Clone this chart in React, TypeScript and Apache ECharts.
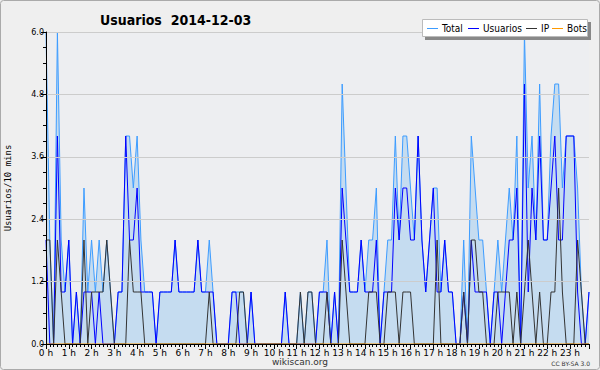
import React, { useEffect, useRef } from "react";
import * as echarts from "echarts";

// 144 ten-minute slots, 0 h .. 23 h 50 (one row = two hours)
const usuarios = [
  2, 0, 0, 4, 1, 1, 2, 0, 1, 0, 1, 1,
  1, 0, 1, 0, 0, 0, 0, 1, 1, 4, 2, 2,
  3, 1, 1, 1, 1, 0, 1, 1, 1, 1, 2, 1,
  1, 1, 1, 1, 2, 1, 1, 1, 1, 0, 0, 0,
  0, 1, 1, 0, 0, 0, 1, 0, 0, 0, 0, 0,
  0, 0, 0, 1, 0, 0, 0, 0, 0, 0, 0, 0,
  1, 1, 1, 0, 1, 0, 3, 2, 1, 1, 1, 2,
  1, 1, 1, 2, 0, 1, 1, 1, 3, 2, 3, 3,
  2, 2, 4, 2, 1, 2, 3, 1, 1, 2, 1, 1,
  0, 0, 1, 0, 2, 1, 1, 1, 1, 0, 1, 1,
  0, 1, 2, 2, 3, 0, 5, 1, 3, 2, 4, 2,
  2, 3, 4, 2, 2, 4, 4, 4, 1, 0, 0, 1,
];
const ip = [
  2, 2, 0, 2, 1, 0, 0, 0, 0, 0, 2, 0,
  1, 1, 1, 1, 2, 1, 0, 0, 0, 0, 2, 1,
  1, 1, 0, 0, 0, 0, 0, 0, 0, 0, 0, 0,
  0, 0, 0, 0, 0, 0, 0, 1, 0, 0, 0, 0,
  0, 0, 0, 1, 1, 0, 0, 0, 0, 0, 0, 0,
  0, 0, 0, 0, 0, 0, 0, 1, 0, 1, 1, 0,
  0, 0, 1, 0, 0, 0, 2, 1, 0, 0, 0, 0,
  0, 1, 1, 1, 0, 0, 1, 1, 1, 0, 1, 1,
  1, 0, 0, 0, 0, 0, 0, 2, 0, 0, 0, 0,
  0, 0, 1, 0, 2, 2, 1, 1, 0, 0, 0, 1,
  1, 1, 1, 0, 1, 0, 1, 2, 1, 0, 1, 0,
  0, 1, 1, 3, 1, 0, 0, 0, 2, 1, 0, 0,
];
const total = [
  6, 2, 0, 6, 2, 1, 2, 0, 1, 0, 3, 1,
  2, 1, 2, 1, 2, 1, 0, 1, 1, 4, 4, 3,
  4, 2, 1, 1, 1, 0, 1, 1, 1, 1, 2, 1,
  1, 1, 1, 1, 2, 1, 1, 2, 1, 0, 0, 0,
  0, 1, 1, 1, 1, 0, 1, 0, 0, 0, 0, 0,
  0, 0, 0, 1, 0, 0, 0, 1, 0, 1, 1, 0,
  1, 1, 2, 0, 1, 0, 5, 3, 1, 1, 1, 2,
  1, 2, 2, 3, 0, 1, 2, 2, 4, 2, 4, 4,
  3, 2, 4, 2, 1, 2, 3, 3, 1, 2, 1, 1,
  0, 0, 2, 0, 4, 3, 2, 2, 1, 0, 1, 2,
  1, 2, 3, 2, 4, 0, 6, 3, 4, 2, 5, 2,
  2, 4, 5, 5, 3, 4, 4, 4, 3, 1, 0, 1,
];
const bots: number[] = new Array(144).fill(0);

const yTicks = [0, 1.2, 2.4, 3.6, 4.8, 6.0];
const hourLabels = Array.from({ length: 24 }, (_, h) => `${h} h`);

const seriesNames = ["Total", "Usuarios", "IP", "Bots"];
const seriesColors = ["#3d9cff", "#0000ff", "#333333", "#ff9900"];

export default function App() {
  const ref = useRef<HTMLDivElement>(null);
  useEffect(() => {
    if (!ref.current) return;
    const chart = echarts.init(ref.current, undefined, { renderer: "svg" });
    const toPairs = (arr: number[]) => arr.map((v, i) => [i, v]);
    const datas = [total, usuarios, ip, bots];
    const font = "DejaVu Sans";
    const legendFont = "DejaVu Sans Condensed";

    // custom legend box (top right)
    const legendIconX = [427, 468, 526, 552];
    const legendTextX = [442, 483, 541, 567];
    const legendY = 28;
    const legendGraphics: any[] = [
      {
        type: "rect",
        shape: { x: 425, y: 22, width: 166, height: 18 },
        style: { fill: "#888888" },
        silent: true,
        z: 100,
      },
      {
        type: "rect",
        shape: { x: 422.5, y: 19.5, width: 165, height: 17 },
        style: { fill: "#ffffff", stroke: "#bbbbbb", lineWidth: 1 },
        silent: true,
        z: 101,
      },
    ];
    seriesNames.forEach((n, k) => {
      legendGraphics.push({
        type: "line",
        shape: { x1: legendIconX[k], y1: legendY + 0.5, x2: legendIconX[k] + 11, y2: legendY + 0.5 },
        style: { stroke: seriesColors[k], lineWidth: 1 },
        silent: true,
        z: 102,
      });
      legendGraphics.push({
        type: "text",
        x: legendTextX[k],
        y: legendY,
        style: {
          text: n,
          fontFamily: legendFont,
          fontSize: 10,
          fill: "#000",
          verticalAlign: "middle",
        },
        silent: true,
        z: 102,
      });
    });

    chart.setOption({
      animation: false,
      backgroundColor: "#efefef",
      title: {
        text: "Usuarios  2014-12-03",
        left: 95,
        top: 8,
        textStyle: { fontFamily: legendFont, fontWeight: "bold", fontSize: 14, color: "#000" },
      },
      grid: {
        left: 46,
        right: 11,
        top: 32,
        bottom: 26,
        show: true,
        backgroundColor: "#edeef1",
        borderWidth: 0,
        containLabel: false,
        outerBoundsMode: "none",
      },
      xAxis: {
        type: "value",
        min: 0,
        max: 143,
        interval: 6,
        z: 10,
        axisLine: { lineStyle: { color: "#000", width: 1 } },
        axisTick: { length: 5, lineStyle: { color: "#000" } },
        minorTick: { show: true, splitNumber: 6, length: 3, lineStyle: { color: "#000" } },
        splitLine: { show: false },
        axisLabel: {
          formatter: (v: number) => hourLabels[v / 6] ?? "",
          fontFamily: font,
          fontSize: 9,
          color: "#000",
          margin: 4,
        },
      },
      yAxis: {
        type: "value",
        min: 0,
        max: 6,
        interval: 1.2,
        z: 10,
        axisLine: { show: true, lineStyle: { color: "#000", width: 1 } },
        axisTick: { show: true, length: 5, lineStyle: { color: "#000" } },
        minorTick: { show: true, splitNumber: 4, length: 3, lineStyle: { color: "#000" } },
        splitLine: { show: true, lineStyle: { color: "#cccccc", width: 1 } },
        axisLabel: {
          formatter: (v: number) => (yTicks.some((t) => Math.abs(t - v) < 1e-6) ? v.toFixed(1) : ""),
          fontFamily: font,
          fontSize: 8,
          color: "#000",
          margin: 2,
        },
        name: "Usuarios/10 mins",
        nameLocation: "middle",
        nameRotate: 90,
        nameGap: 34,
        nameTextStyle: { fontFamily: "DejaVu Sans Mono", fontSize: 9, color: "#000" },
      },
      graphic: [
        {
          type: "rect",
          shape: { x: 0.5, y: 0.5, width: 599, height: 369, r: 3 },
          style: { fill: "none", stroke: "#aaaaaa", lineWidth: 1 },
          silent: true,
        },
        {
          type: "text",
          x: 300,
          y: 362,
          style: {
            text: "wikiscan.org",
            fontFamily: font,
            fontSize: 9,
            fill: "#333",
            align: "center",
            verticalAlign: "middle",
          },
        },
        {
          type: "text",
          x: 590,
          y: 363,
          style: {
            text: "CC BY-SA 3.0",
            fontFamily: font,
            fontSize: 6,
            fill: "#333",
            align: "right",
            verticalAlign: "middle",
          },
        },
        ...legendGraphics,
      ],
      series: seriesNames.map((name, k) => ({
        name,
        type: "line",
        data: toPairs(datas[k]),
        showSymbol: false,
        symbol: "none",
        color: seriesColors[k],
        lineStyle: { color: seriesColors[k], width: 1 },
        areaStyle: k === 0 ? { color: "#c5dcf0", opacity: 1 } : undefined,
        z: 2 + k,
      })),
    });
    return () => chart.dispose();
  }, []);
  return <div ref={ref} style={{ position: "absolute", left: 0, top: 0, width: 600, height: 370 }} />;
}
